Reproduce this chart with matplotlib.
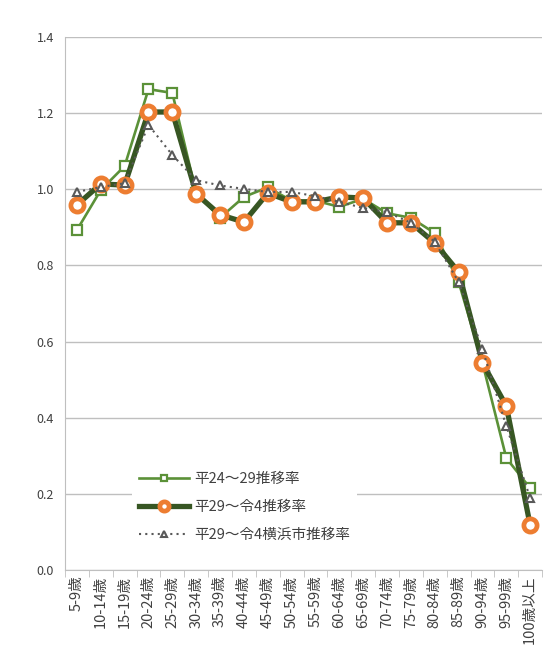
import matplotlib.pyplot as plt
import numpy as np

plt.rcParams['font.family'] = ['Noto Sans CJK JP', 'DejaVu Sans']

labels = ['5-9歳', '10-14歳', '15-19歳', '20-24歳', '25-29歳', '30-34歳', '35-39歳',
          '40-44歳', '45-49歳', '50-54歳', '55-59歳', '60-64歳', '65-69歳', '70-74歳',
          '75-79歳', '80-84歳', '85-89歳', '90-94歳', '95-99歳', '100歳以上']

# 平24～29推移率
rate_h24 = [0.893, 0.998, 1.061, 1.263, 1.253, 0.990, 0.925, 0.980, 1.005, 0.970,
            0.970, 0.954, 0.975, 0.937, 0.925, 0.885, 0.757, 0.544, 0.294, 0.215]
# 平29～令4推移率
rate_h29 = [0.959, 1.014, 1.011, 1.203, 1.203, 0.988, 0.933, 0.914, 0.990, 0.967,
            0.967, 0.980, 0.977, 0.912, 0.912, 0.859, 0.783, 0.544, 0.431, 0.118]
# 平29～令4横浜市推移率
rate_yokohama = [0.993, 1.006, 1.016, 1.169, 1.090, 1.024, 1.010, 1.001, 0.993, 0.993,
                 0.982, 0.967, 0.951, 0.940, 0.912, 0.862, 0.757, 0.580, 0.378, 0.189]

x = np.arange(len(labels))

fig = plt.figure(figsize=(5.44, 6.49), dpi=100)
ax = fig.add_axes([0.1195, 0.1217, 0.877, 0.8213])

ax.plot(x, rate_h24, color='#5B9138', lw=1.9, marker='s', ms=6.5,
        mfc='white', mec='#5B9138', mew=1.6, label='平24～29推移率', zorder=3)
ax.plot(x, rate_h29, color='#375623', lw=3.8, marker='o', ms=9.5,
        mfc='white', mec='#ED7D31', mew=3.4, label='平29～令4推移率', zorder=4)
ax.plot(x, rate_yokohama, color='#595959', lw=1.5, ls=(0, (1, 2)), marker='^', ms=6,
        mfc='white', mec='#595959', mew=1.5, label='平29～令4横浜市推移率', zorder=5)

ax.set_xlim(-0.5, len(labels) - 0.5)
ax.set_ylim(0, 1.4)
ax.set_yticks(np.arange(0, 1.41, 0.2))
ax.set_yticklabels([f'{v:.1f}' for v in np.arange(0, 1.41, 0.2)])
ax.yaxis.grid(True, color='#BFBFBF', lw=1.0)
ax.set_axisbelow(True)

ax.set_xticks(x)
ax.set_xticklabels(labels, rotation=90, fontsize=10.5, color='#404040')
ax.tick_params(axis='x', which='major', length=0, pad=4)
ax.set_xticks(np.arange(-0.5, len(labels), 1), minor=True)
ax.tick_params(axis='x', which='minor', length=5, color='#BFBFBF', direction='out')
ax.tick_params(axis='y', length=0, labelsize=9, labelcolor='#404040', pad=8)

for s in ['top', 'right']:
    ax.spines[s].set_visible(False)
ax.spines['left'].set_color('#BFBFBF')
ax.spines['bottom'].set_color('#BFBFBF')

leg = ax.legend(loc='lower left', bbox_to_anchor=(0.125, 0.025), frameon=True,
                fancybox=False, edgecolor='none', facecolor='white', framealpha=1,
                fontsize=10.5, handlelength=3.4, handletextpad=0.35, markerscale=0.7,
                labelspacing=0.95, borderpad=0.5)
leg.set_zorder(10)
for t in leg.get_texts():
    t.set_color('#404040')

fig.savefig('out.png', dpi=100)
